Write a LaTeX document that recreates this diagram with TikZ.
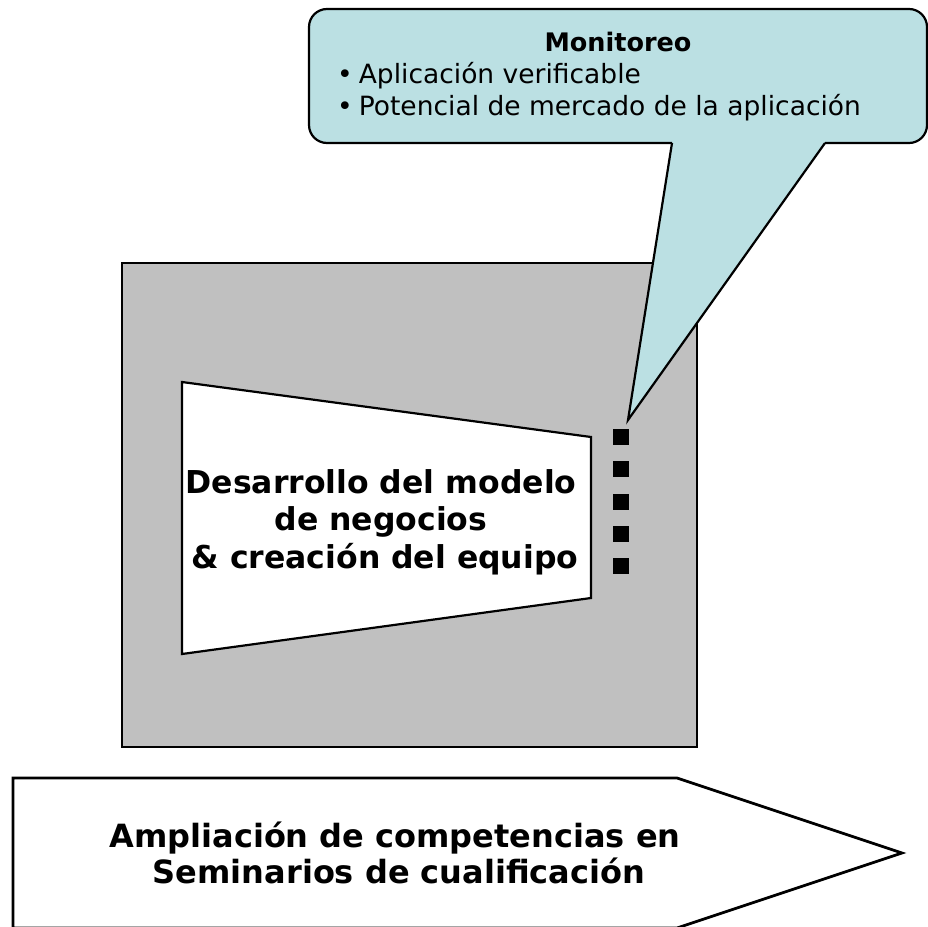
\documentclass[tikz,border=0pt]{standalone}
\usepackage{fontspec}
\setmainfont{DejaVu Sans}
\definecolor{boxgray}{HTML}{C0C0C0}
\definecolor{callblue}{HTML}{BBE0E3}
\tikzset{
  outline/.style={draw=black, line width=2.2pt, line join=miter},
  bigtext/.style={font=\fontsize{31.5}{37}\selectfont\bfseries, inner sep=0pt, anchor=base},
  arrowtext/.style={font=\fontsize{32}{36}\selectfont\bfseries, inner sep=0pt, anchor=base},
  calltext/.style={font=\fontsize{26.5}{32}\selectfont, inner sep=0pt, anchor=base west},
  calltitle/.style={font=\fontsize{25.5}{32}\selectfont\bfseries, inner sep=0pt, anchor=base},
  dotsq/.style={fill=black, minimum size=16pt, inner sep=0pt},
}
\begin{document}
\begin{tikzpicture}[x=1pt,y=-1pt]
\useasboundingbox (0,0) rectangle (928,926);
\clip (0,0) rectangle (928,926);
% gray frame
\path[outline, fill=boxgray, line width=2.4pt] (122,263) rectangle (697,747);
% trapezoid
\path[outline, fill=white] (182,382) -- (591,437) -- (591,598) -- (182,654) -- cycle;
\node[bigtext] (t1) at (381,493) {Desarrollo del modelo};
\node[bigtext] (t2) at (381,530) {de negocios};
\node[bigtext] (t3) at (385,568) {\& creación del equipo};
% dots
\foreach \i in {0,...,4} {
  \node[dotsq] (d\i) at (621,{437+32.25*\i}) {};
}
% callout
\path[outline, fill=callblue, rounded corners=18pt] (672,143) -- (309,143) -- (309,9) -- (927,9) -- (927,143) -- (825,143);
\fill[callblue] (672,143) -- (825,143) -- (628,420) -- cycle;
\coordinate (tip) at (628,420);
\coordinate (bl) at (672,143);
\coordinate (br) at (825,143);
\draw[outline] (bl) -- (tip) -- (br);
\node[calltitle] (mt) at (618,51) {Monitoreo};
\node[calltext] (b1) at (337,83) {•\hspace{6pt}Aplicación verificable};
\node[calltext] (b2) at (337,115) {•\hspace{6pt}Potencial de mercado de la aplicación};
% big arrow
\path[outline, line width=2.8pt, fill=white] (13,778) -- (677,778) -- (902,853) -- (677,928) -- (13,928) -- cycle;
\node[arrowtext] (a1) at (395,847) {Ampliación de competencias en};
\node[arrowtext] (a2) at (399,883) {Seminarios de cualificación};
\end{tikzpicture}
\end{document}
